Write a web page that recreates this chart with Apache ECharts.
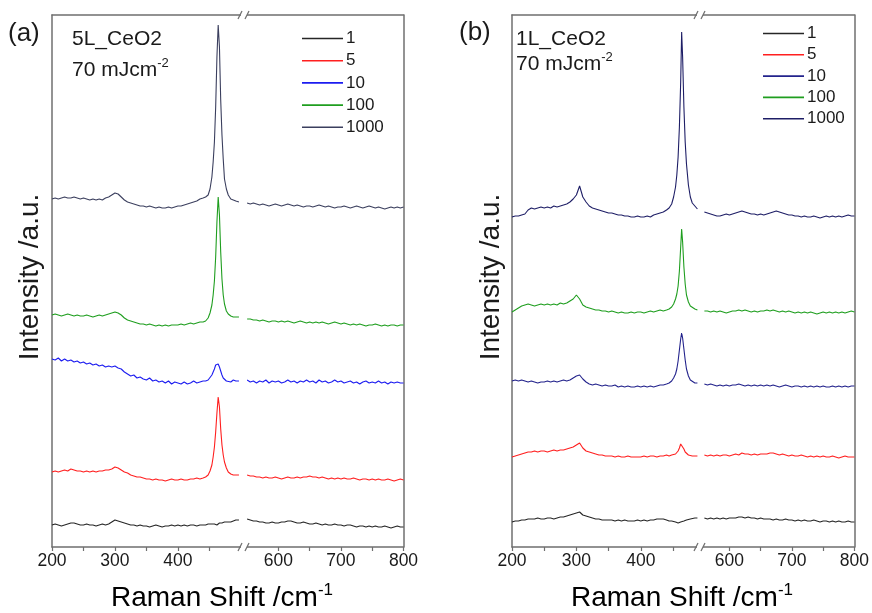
<!DOCTYPE html>
<html>
<head>
<meta charset="utf-8">
<title>Raman spectra of CeO2 films</title>
<script src="https://cdn.jsdelivr.net/npm/echarts@6/dist/echarts.min.js"></script>
<style>
  html, body { margin: 0; padding: 0; background: #ffffff; }
  #chart { width: 872px; height: 613px; }
</style>
</head>
<body>
<div id="chart"></div>
<script>
// ---- Raman shift sampling (cm-1) ----
const shiftLowA = [200,205,210,215,220,225,230,235,240,245,250,255,260,265,270,275,280,285,290,295,300,305,310,315,320,325,330,335,340,345,350,355,360,365,370,375,380,385,390,395,400,405,410,415,420,425,430,435,440,
  444,448,451,454,456,458,460,462,464,466,468,470,472,474,477,480,484,488,492,497];
const shiftHighA = [550,555,560,565,570,575,580,585,590,595,600,605,610,615,620,625,630,635,640,645,650,655,660,665,670,675,680,685,690,695,700,705,710,715,720,725,730,735,740,745,750,755,760,765,770,775,780,785,790,795,800];
const shiftLowB = [200,205,210,215,220,225,230,235,240,245,250,255,260,265,270,275,280,285,290,295,300,305,310,315,320,325,330,335,340,345,350,355,360,365,370,375,380,385,390,395,400,405,410,415,420,425,430,435,440,
  444,448,451,454,456,458,460,462,463.5,465,467,469,471,474,477,480,484,488];
const shiftHighB = [560,565,570,575,580,585,590,595,600,605,610,615,620,625,630,635,640,645,650,655,660,665,670,675,680,685,690,695,700,705,710,715,720,725,730,735,740,745,750,755,760,765,770,775,780,785,790,795,800];

// ---- (a) 5L_CeO2, stacked intensities (a.u.) ----
const a1Low = [22,23,22,21,22,23,24,24,23,22, 22,23,22,22,21,22,23,22,23,25, 27,26,25,24,23,22,22,21,22,21, 21,20,21,22,21,20,21,21,22,21, 22,21,22,21,22,22,21,22,22,
  22,23,22,23,22,23,23,22,23,24,23,24,24,25,24,25,25,26,27,27];
const a1High = [28,27,26,26,25,25,24,24,25,24, 24,25,25,26,26,25,24,24,25,24, 23,23,24,23,22,23,22,22,23,22, 22,21,22,22,21,20,21,21,20,21, 20,21,20,20,21,20,19,20,21,20, 20];
const a5Low = [75,76,75,76,77,76,78,77,76,76, 75,76,75,76,75,76,76,77,77,78, 80,79,77,75,74,72,71,70,70,69, 68,68,67,68,67,67,66,67,68,67, 67,68,67,67,68,68,69,68,69,
  70,72,76,82,90,100,115,134,150,140,118,102,92,85,79,75,73,72,72,72];
const a5High = [72,71,71,70,70,69,70,69,69,70, 69,68,69,70,69,69,70,69,70,70, 71,70,70,69,70,69,68,69,68,69, 68,69,68,68,69,68,67,68,68,67, 68,67,68,67,67,68,67,66,67,68, 67];
const a10Low = [188,187,189,186,188,186,187,185,186,184, 185,183,184,182,183,181,182,180,181,180, 181,179,178,175,173,171,172,169,170,168, 167,169,166,167,165,166,164,166,163,165, 164,163,165,163,164,166,164,165,166,
  166,167,169,172,175,178,182,184,183,180,176,172,169,167,166,167,165,167,166,166];
const a10High = [167,165,166,164,166,165,167,164,166,165, 166,164,165,167,165,166,164,166,165,167, 165,166,164,167,165,166,164,165,167,165, 166,164,165,166,164,165,163,165,166,164, 165,164,166,164,165,163,165,164,165,164, 164];
const a100Low = [232,233,232,231,232,233,232,231,232,231, 231,232,231,230,231,232,231,232,233,234, 235,234,232,229,227,226,225,224,223,223, 222,223,222,221,222,221,222,221,222,222, 222,223,222,223,224,223,224,225,225,
  226,229,234,242,252,266,290,325,350,332,295,268,252,243,236,233,231,230,230,230];
const a100High = [228,228,227,227,226,227,226,225,226,226, 225,226,225,226,225,224,225,226,225,224, 225,224,225,224,225,224,223,224,225,224, 223,224,223,222,223,222,223,222,221,222, 222,223,222,221,222,221,222,222,221,222, 222];
const a1000Low = [348,349,348,349,350,349,349,350,349,348, 349,348,347,348,347,348,347,349,350,352, 354,353,350,347,345,344,343,342,341,341, 340,341,340,339,340,339,339,340,339,340, 341,341,342,343,344,345,346,348,349,
  350,352,358,370,385,405,440,490,522,500,447,412,388,368,358,352,348,347,346,345];
const a1000High = [344,343,344,343,342,343,342,341,342,343, 342,341,342,343,342,341,342,341,340,341, 341,340,341,342,341,340,341,340,339,340, 340,341,340,339,340,341,340,339,340,341, 340,339,340,339,338,339,340,339,340,339, 340];

// ---- (b) 1L_CeO2, stacked intensities (a.u.) ----
const b1Low = [25,26,26,27,27,28,28,28,29,28, 28,29,29,28,29,30,30,31,32,33, 34,35,32,31,30,29,28,28,27,27, 27,27,26,27,26,27,26,26,26,27, 26,27,26,27,27,28,28,28,27,
  26,26,25,25,24,24,24,25,25,25,26,26,27,27,28,28,29,29];
const b1High = [29,28,29,28,29,28,29,28,29,29, 29,30,30,29,30,29,29,28,29,28, 28,28,27,28,27,27,28,27,27,26, 27,26,27,26,26,27,26,25,26,26, 25,26,25,26,25,25,26,25,25];
const b5Low = [90,91,92,93,94,95,95,96,95,96, 96,95,96,97,96,97,97,98,99,100, 102,104,99,96,95,94,93,92,92,91, 91,91,90,91,90,90,91,90,90,90, 90,91,90,91,91,90,91,91,92,
  91,92,92,93,94,96,99,103,105,103,98,95,93,92,91,91,91,91];
const b5High = [92,91,92,91,92,91,92,92,91,92, 93,92,94,93,93,92,93,92,93,93, 93,94,94,93,92,93,92,91,92,91, 91,92,91,90,91,90,91,90,91,90, 90,91,90,89,90,91,90,90,90];
const b10Low = [166,167,166,167,166,165,166,165,164,165, 165,166,165,166,165,166,167,166,167,169, 171,172,168,165,163,162,163,162,161,162, 161,161,162,160,161,160,161,160,160,161, 160,161,160,161,160,161,162,162,163,
  164,166,169,173,178,186,197,208,214,209,198,187,178,171,167,165,164,164];
const b10High = [163,162,163,162,161,162,161,162,161,162, 162,163,162,161,162,161,162,161,162,161, 162,161,162,161,160,161,162,161,160,161, 161,160,161,160,161,160,161,160,161,160, 160,161,160,161,160,161,160,161,161];
const b100Low = [235,237,239,241,242,243,242,241,242,243, 242,243,242,243,242,244,243,244,246,248, 252,248,242,240,239,238,237,237,236,236, 235,236,235,234,235,234,234,235,234,235, 235,234,235,236,235,236,237,236,237,
  238,240,243,248,253,261,276,300,318,305,280,263,252,245,241,239,238,237];
const b100High = [236,236,235,236,235,236,235,234,235,236, 236,237,236,237,236,235,236,235,236,236, 237,236,237,236,235,236,235,236,235,234, 235,234,235,234,235,234,233,234,235,234, 235,234,235,234,235,234,235,236,235];
const b1000Low = [330,331,331,332,333,337,339,338,339,340, 339,340,339,341,340,341,342,343,345,348, 352,361,350,345,341,339,338,337,336,335, 334,334,333,332,332,331,331,330,330,331, 330,330,331,330,332,333,334,335,337,
  339,343,350,360,372,390,420,465,515,490,440,405,383,362,350,344,341,338];
const b1000High = [335,334,333,332,331,331,332,333,332,333, 334,335,336,335,334,333,333,332,333,332, 333,334,335,336,335,334,333,332,332,331, 331,330,331,330,330,331,330,329,330,331, 330,331,330,331,330,331,332,331,331];

// ---- labels ----
const pulseCounts = ['1', '5', '10', '100', '1000'];
const colorsA = ['#262626', '#ff1f1f', '#1c1cf0', '#1f9e1f', '#3b3f5e'];
const colorsB = ['#262626', '#ff1f1f', '#23238c', '#1f9e1f', '#1e1e66'];
const tickLabelsLow = [200, 300, 400];
const tickLabelsHigh = [600, 700, 800];
const tickMarksLow = [200, 250, 300, 350, 400, 450];
const tickMarksHigh = [600, 650, 700, 750, 800];

// ---- layout ----
const FONT = '"Liberation Sans", Arial, Helvetica, sans-serif';
const FRAME = '#6f6f6f';
const TOP = 15, HEIGHT = 532;
// each panel: broken x axis, low segment + high segment
const panels = [
  { key: 'a', left: 52, split: 244, right: 403.5, lowMax: 505, highMin: 545,
    colors: colorsA, legendLeft: 302, legendTop: 30, legendGap: 5.2,
    low: [a1Low, a5Low, a10Low, a100Low, a1000Low], high: [a1High, a5High, a10High, a100High, a1000High],
    xLow: shiftLowA, xHigh: shiftHighA },
  { key: 'b', left: 512, split: 700, right: 857, lowMax: 492, highMin: 553,
    colors: colorsB, legendLeft: 763, legendTop: 25, legendGap: 4.3,
    low: [b1Low, b5Low, b10Low, b100Low, b1000Low], high: [b1High, b5High, b10High, b100High, b1000High],
    xLow: shiftLowB, xHigh: shiftHighB }
];

const grid = [], xAxis = [], yAxis = [], series = [], legend = [], graphic = [];

function bottomAxis(gi, min, max, labels, ticks) {
  return {
    type: 'value', gridIndex: gi, min: min, max: max, position: 'bottom',
    axisLine: { show: true, onZero: false, lineStyle: { color: FRAME, width: 1.5 } },
    axisTick: { show: true, inside: false, length: 4, customValues: ticks, lineStyle: { color: FRAME, width: 1.2 } },
    axisLabel: { show: true, customValues: labels, margin: 5, fontSize: 17.5, fontFamily: FONT, color: '#1a1a1a' },
    splitLine: { show: false }, minorTick: { show: false }
  };
}
function topAxis(gi, min, max) {
  return {
    type: 'value', gridIndex: gi, min: min, max: max, position: 'top',
    axisLine: { show: true, onZero: false, lineStyle: { color: FRAME, width: 1.5 } },
    axisTick: { show: false }, axisLabel: { show: false }, splitLine: { show: false }
  };
}
function sideAxis(gi, pos, showLine) {
  return {
    type: 'value', gridIndex: gi, min: 0, max: 532, position: pos,
    axisLine: { show: showLine, onZero: false, lineStyle: { color: FRAME, width: 1.5 } },
    axisTick: { show: false }, axisLabel: { show: false }, splitLine: { show: false }
  };
}
function pairs(xs, ys) { return xs.map((x, i) => [x, ys[i]]); }

panels.forEach((p, k) => {
  const gLow = k * 2, gHigh = k * 2 + 1;
  grid.push({ left: p.left, top: TOP, width: p.split - p.left, height: HEIGHT });
  grid.push({ left: p.split, top: TOP, width: p.right - p.split, height: HEIGHT });
  xAxis[gLow] = bottomAxis(gLow, 200, p.lowMax, tickLabelsLow, tickMarksLow);
  xAxis[gHigh] = bottomAxis(gHigh, p.highMin, 800, tickLabelsHigh, tickMarksHigh);
  yAxis[gLow] = sideAxis(gLow, 'left', true);
  yAxis[gHigh] = sideAxis(gHigh, 'right', true);

  const names = pulseCounts.map(n => p.key + n);
  pulseCounts.forEach((n, i) => {
    const base = {
      type: 'line', name: p.key + n, symbol: 'none', showSymbol: false,
      lineStyle: { width: 1.1, color: p.colors[i] }, itemStyle: { color: p.colors[i] },
      animation: false, z: 2 + i
    };
    series.push(Object.assign({}, base, { xAxisIndex: gLow, yAxisIndex: gLow, data: pairs(p.xLow, p.low[i]) }));
    series.push(Object.assign({}, base, { xAxisIndex: gHigh, yAxisIndex: gHigh, data: pairs(p.xHigh, p.high[i]) }));
  });

  legend.push({
    data: names, orient: 'vertical', left: p.legendLeft, top: p.legendTop,
    icon: 'rect', itemWidth: 41, itemHeight: 1.6, itemGap: p.legendGap, padding: 0,
    formatter: name => name.slice(1), selectedMode: false,
    textStyle: { fontSize: 17, fontFamily: FONT, color: '#1a1a1a', padding: [0, 0, 0, -2] }
  });

  // axis break marks "//" on the top and bottom frame lines
  [TOP, TOP + HEIGHT].forEach(yy => {
    graphic.push({ type: 'rect', shape: { x: p.split - 3, y: yy - 2, width: 6, height: 4 }, style: { fill: '#ffffff' }, z: 100 });
    graphic.push({ type: 'line', shape: { x1: p.split - 6, y1: yy + 4, x2: p.split - 2, y2: yy - 4 }, style: { stroke: FRAME, lineWidth: 1.2 }, z: 101 });
    graphic.push({ type: 'line', shape: { x1: p.split + 1, y1: yy + 4, x2: p.split + 5, y2: yy - 4 }, style: { stroke: FRAME, lineWidth: 1.2 }, z: 101 });
  });
});

// top axes appended after the bottom axes
panels.forEach((p, k) => {
  xAxis.push(topAxis(k * 2, 200, p.lowMax));
  xAxis.push(topAxis(k * 2 + 1, p.highMin, 800));
});

const txt = (x, y, text, size, extra) => ({
  type: 'text', x: x, y: y, z: 120,
  style: Object.assign({ text: text, fontSize: size, fontFamily: FONT, fill: '#1a1a1a', verticalAlign: 'middle' }, extra || {})
});
const fluence = (x, y) => ({
  type: 'text', x: x, y: y, z: 120,
  style: {
    text: '{m|70 mJcm}{s|-2}', verticalAlign: 'middle', fill: '#1a1a1a',
    rich: {
      m: { fontSize: 21, fontFamily: FONT, color: '#1a1a1a', lineHeight: 26 },
      s: { fontSize: 13, fontFamily: FONT, color: '#1a1a1a', verticalAlign: 'top', lineHeight: 26 }
    }
  }
});
const ramanTitle = (x) => ({
  type: 'text', x: x, y: 598, z: 120,
  style: {
    text: '{t|Raman Shift /cm}{s|-1}', align: 'center', verticalAlign: 'middle',
    rich: {
      t: { fontSize: 28, fontFamily: FONT, color: '#1a1a1a', lineHeight: 32 },
      s: { fontSize: 17, fontFamily: FONT, color: '#1a1a1a', verticalAlign: 'top', lineHeight: 32 }
    }
  }
});
const intensityTitle = (x) => ({
  type: 'text', x: x, y: 277, rotation: Math.PI / 2, z: 120,
  style: { text: 'Intensity /a.u.', fontSize: 28, fontFamily: FONT, fill: '#1a1a1a', align: 'center', verticalAlign: 'middle' }
});

graphic.push(
  txt(8, 34, '(a)', 26),
  txt(459, 33, '(b)', 26),
  txt(72, 39, '5L_CeO2', 21),
  fluence(72, 70),
  txt(516, 39, '1L_CeO2', 21),
  fluence(516, 64),
  ramanTitle(222),
  ramanTitle(682),
  intensityTitle(30),
  intensityTitle(491)
);

const chart = echarts.init(document.getElementById('chart'), null, { renderer: 'canvas' });
chart.setOption({
  backgroundColor: '#ffffff',
  animation: false,
  grid: grid,
  xAxis: xAxis,
  yAxis: yAxis,
  legend: legend,
  series: series,
  graphic: graphic
});
</script>
</body>
</html>
